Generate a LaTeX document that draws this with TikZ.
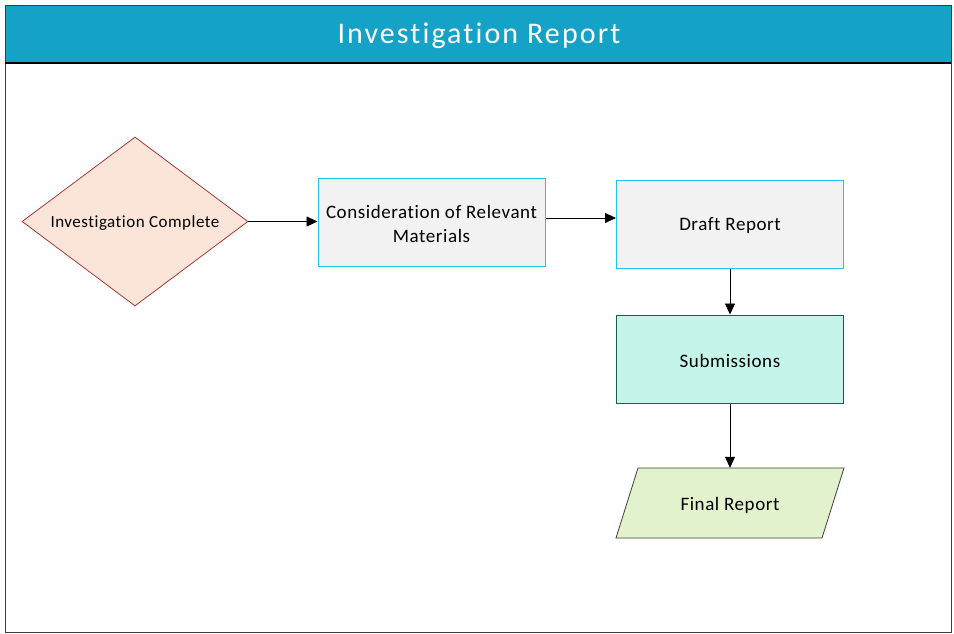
\documentclass[tikz,border=0pt]{standalone}
\usepackage{fontspec}
\setmainfont{Carlito}[Ligatures=NoCommon]
\usetikzlibrary{shapes.geometric,arrows.meta}
\definecolor{titlebar}{HTML}{14A3C7}
\definecolor{framegray}{HTML}{3C3C3C}
\definecolor{decfill}{HTML}{FAE5D8}
\definecolor{decline}{HTML}{A53A3A}
\definecolor{procfill}{HTML}{F2F2F2}
\definecolor{procline}{HTML}{22C4EE}
\definecolor{subfill}{HTML}{C4F4EA}
\definecolor{subline}{HTML}{1E5A4E}
\definecolor{iofill}{HTML}{E2F2CC}
\definecolor{ioline}{HTML}{404040}
\newcommand{\bodyfont}{\fontsize{19}{24}\selectfont\addfontfeature{LetterSpace=3}}
\tikzset{
  decision/.style={diamond, aspect=1.337, minimum width=226pt, minimum height=169pt,
    inner sep=0pt, draw=decline, fill=decfill, line width=0.8pt,
    font=\fontsize{17}{20}\selectfont\addfontfeature{LetterSpace=3}},
  process/.style={rectangle, minimum width=227pt, minimum height=88pt, inner sep=0pt,
    draw=procline, fill=procfill, line width=1pt, align=center, font=\bodyfont},
  subbox/.style={process, draw=subline, fill=subfill},
  iotext/.style={rectangle, minimum width=228pt, minimum height=70pt, inner sep=0pt,
    font=\bodyfont},
  label/.style={inner sep=0pt, align=center, font=\bodyfont},
  flow/.style={-{Triangle[length=11pt,width=10pt]}, line width=0.8pt, black}
}
\begin{document}
\begin{tikzpicture}[x=1pt,y=-1pt]
  \useasboundingbox (0,0) rectangle (954,633);
  % frame and title bar
  \fill[white] (0,0) rectangle (954,633);
  \fill[titlebar] (5,5) rectangle (951,63);
  \draw[framegray, line width=1pt] (5,5) rectangle (951,632);
  \draw[black, line width=1.2pt] (5,63) -- (951,63);
  \node[white, font=\fontsize{30}{34}\selectfont\addfontfeature{LetterSpace=7}] (title) at (479,36) {Investigation Report};

  % flow nodes (shapes first, labels set slightly lower for optical centring)
  \node[decision] (complete) at (135,221.5) {};
  \node[label, font=\fontsize{17}{20}\selectfont\addfontfeature{LetterSpace=3}] (completelbl) at (135,223) {Investigation Complete};
  \node[process] (consider) at (431.5,222) {};
  \node[label] (considerlbl) at (431.5,224) {Consideration of Relevant\\Materials};
  \node[process] (draft) at (730,224) {};
  \node[label] (draftlbl) at (730,226) {Draft Report};
  \node[subbox] (subm) at (730,359) {};
  \node[label] (submlbl) at (730,361) {Submissions};
  \node[iotext] (final) at (730,503) {};
  \fill[iofill] (638,468) -- (844,468) -- (822,538) -- (616,538) -- cycle;
  \draw[ioline, line width=0.8pt] (638,468) -- (844,468) -- (822,538) -- (616,538) -- cycle;
  \node[label] (finallbl) at (730,505) {Final Report};

  % connectors
  \draw[flow] (complete.east) -- (consider.west |- complete.east);
  \coordinate (c1) at (consider.east |- 0,218);
  \draw[flow] (c1) -- (draft.west |- c1);
  \draw[flow] (draft.south) -- (subm.north);
  \draw[flow] (subm.south) -- (final.north);
\end{tikzpicture}
\end{document}
